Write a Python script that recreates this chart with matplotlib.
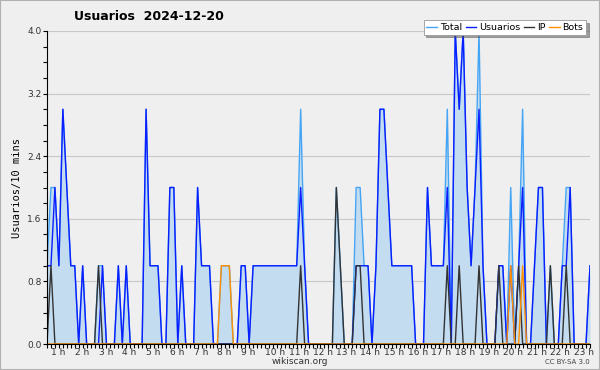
import matplotlib.pyplot as plt
from matplotlib.patches import Rectangle
from matplotlib.ticker import MultipleLocator, FixedLocator

# one point every 10 minutes, first point at 00:50
start_min = 50
step_min = 10

total = [1, 2, 2, 1, 3, 2, 1, 1, 0, 1, 0, 0, 0, 1, 1, 0, 0, 0, 1, 0,
         1, 0, 0, 0, 0, 3, 1, 1, 1, 0, 0, 2, 2, 0, 1, 0, 0, 0, 2, 1,
         1, 1, 0, 0, 1, 1, 1, 0, 0, 1, 1, 0, 1, 1, 1, 1, 1, 1, 1, 1,
         1, 1, 1, 1, 3, 1, 0, 0, 0, 0, 0, 0, 0, 2, 1, 0, 0, 0, 2, 2,
         1, 1, 0, 1, 3, 3, 2, 1, 1, 1, 1, 1, 1, 0, 0, 0, 2, 1, 1, 1,
         1, 3, 0, 4, 3, 4, 2, 1, 2, 4, 1, 0, 0, 0, 1, 1, 0, 2, 0, 1,
         3, 0, 0, 1, 2, 2, 0, 1, 0, 0, 1, 2, 2, 0, 0, 0, 0, 1]
usuarios = [1, 1, 2, 1, 3, 2, 1, 1, 0, 1, 0, 0, 0, 0, 1, 0, 0, 0, 1, 0,
            1, 0, 0, 0, 0, 3, 1, 1, 1, 0, 0, 2, 2, 0, 1, 0, 0, 0, 2, 1,
            1, 1, 0, 0, 0, 0, 0, 0, 0, 1, 1, 0, 1, 1, 1, 1, 1, 1, 1, 1,
            1, 1, 1, 1, 2, 1, 0, 0, 0, 0, 0, 0, 0, 0, 0, 0, 0, 0, 1, 1,
            1, 1, 0, 1, 3, 3, 2, 1, 1, 1, 1, 1, 1, 0, 0, 0, 2, 1, 1, 1,
            1, 2, 0, 4, 3, 4, 2, 1, 2, 3, 1, 0, 0, 0, 1, 1, 0, 1, 0, 1,
            2, 0, 0, 1, 2, 2, 0, 0, 0, 0, 1, 1, 2, 0, 0, 0, 0, 1]
ip = [0, 1, 0, 0, 0, 0, 0, 0, 0, 0, 0, 0, 0, 1, 0, 0, 0, 0, 0, 0,
      0, 0, 0, 0, 0, 0, 0, 0, 0, 0, 0, 0, 0, 0, 0, 0, 0, 0, 0, 0,
      0, 0, 0, 0, 0, 0, 0, 0, 0, 0, 0, 0, 0, 0, 0, 0, 0, 0, 0, 0,
      0, 0, 0, 0, 1, 0, 0, 0, 0, 0, 0, 0, 0, 2, 1, 0, 0, 0, 1, 1,
      0, 0, 0, 0, 0, 0, 0, 0, 0, 0, 0, 0, 0, 0, 0, 0, 0, 0, 0, 0,
      0, 1, 0, 0, 1, 0, 0, 0, 0, 1, 0, 0, 0, 0, 1, 0, 0, 0, 0, 1,
      0, 0, 0, 0, 0, 0, 0, 1, 0, 0, 0, 1, 0, 0, 0, 0, 0, 0]
bots = [0] * 44 + [1, 1, 1] + [0] * 70 + [1, 0, 0, 1] + [0] * 17

hours = [(start_min + step_min * i) / 60 for i in range(len(total))]
hour_ticks = list(range(1, 24))
hour_labels = [f"{h} h" for h in hour_ticks]

bg = "#efefef"
fig = plt.figure(figsize=(6, 3.7), dpi=100, facecolor=bg)
fig.patches.append(Rectangle((0, 0), 1, 1, transform=fig.transFigure,
                             fill=False, edgecolor="#b0b0b0", linewidth=1.5))
ax = fig.add_axes([47 / 600, 1 - 344 / 370, 543 / 600, 313 / 370])
ax.set_facecolor(bg)

ax.fill_between(hours, total, 0, color="#c4dcf0", linewidth=0)
ax.plot(hours, total, color="#45a5f5", linewidth=1, label="Total")
ax.plot(hours, usuarios, color="#0a1eff", linewidth=1, label="Usuarios")
ax.plot(hours, ip, color="#333333", linewidth=1, label="IP")
ax.plot(hours, bots, color="#ff9000", linewidth=1, label="Bots")

ax.set_xlim(hours[0], hours[-1])
ax.set_ylim(0, 4)
ax.yaxis.set_major_locator(FixedLocator([0, 0.8, 1.6, 2.4, 3.2, 4.0]))
ax.yaxis.set_minor_locator(MultipleLocator(0.2))
ax.set_yticklabels(["0.0", "0.8", "1.6", "2.4", "3.2", "4.0"])
ax.xaxis.set_major_locator(FixedLocator(hour_ticks))
ax.xaxis.set_minor_locator(MultipleLocator(1 / 6))
ax.set_xticklabels(hour_labels, ha="left")
ax.tick_params(axis="both", which="both", length=3, width=0.8,
               labelsize=6.5, colors="black", labelcolor="#333333", pad=1)
ax.tick_params(axis="x", which="major", pad=0)
ax.grid(axis="y", which="major", color="#c8c8c8", linewidth=0.8)
ax.set_axisbelow(True)
for s in ["top", "right"]:
    ax.spines[s].set_visible(False)

ax.set_ylabel("Usuarios/10 mins", fontsize=7.5, family="DejaVu Sans Mono")
fig.text(74 / 600, 1 - 17 / 370, "Usuarios  2024-12-20", fontsize=9,
         fontweight="bold", va="center")

leg = ax.legend(loc="upper right", bbox_to_anchor=(0.993, 1.035), ncol=4,
                fontsize=6.8, frameon=True, fancybox=False, shadow=True,
                handlelength=1.1, handletextpad=0.3, columnspacing=0.4,
                borderpad=0.3, borderaxespad=0)
leg.get_frame().set_edgecolor("#999999")
leg.get_frame().set_linewidth(0.6)

fig.text(0.5, 1 - 361 / 370, "wikiscan.org", fontsize=6.5, ha="center",
         va="center", color="#333333")
fig.text(590 / 600, 1 - 362 / 370, "CC BY-SA 3.0", fontsize=5, ha="right",
         va="center", color="#444444")

fig.savefig("out.png", dpi=100, facecolor=bg)
